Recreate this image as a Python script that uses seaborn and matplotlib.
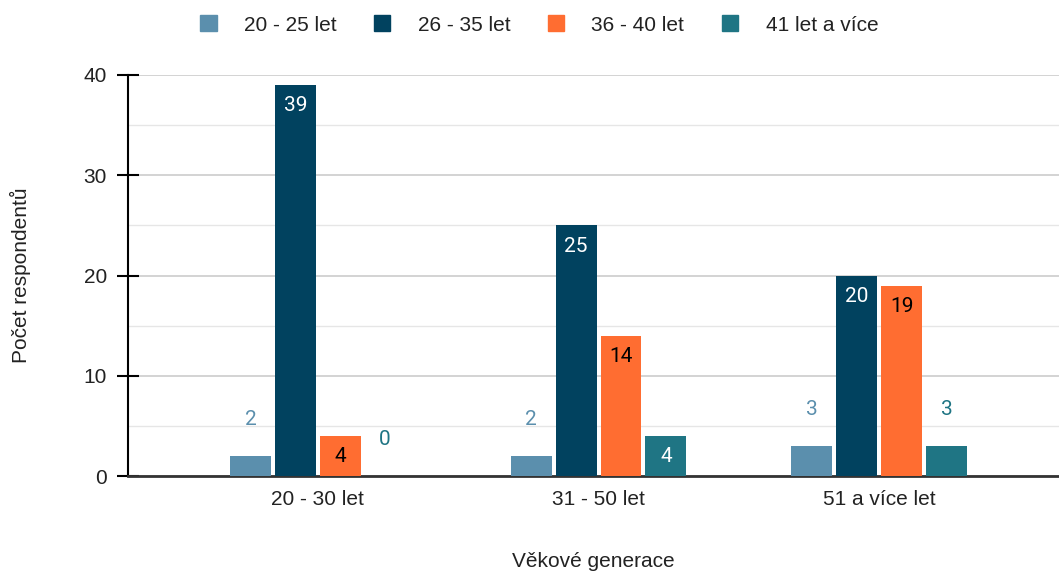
import matplotlib
matplotlib.use("Agg")
import matplotlib.pyplot as plt
import seaborn as sns
import pandas as pd
from matplotlib.patches import Patch
from matplotlib.ticker import MultipleLocator

categories = ["20 - 30 let", "31 - 50 let", "51 a více let"]
series_names = ["20 - 25 let", "26 - 35 let", "36 - 40 let", "41 let a více"]
v_20_25 = [2, 2, 3]
v_26_35 = [39, 25, 20]
v_36_40 = [4, 14, 19]
v_41 = [0, 4, 3]

colors = ["#5b8fad", "#01425f", "#ff6d31", "#1f7584"]
label_inside_colors = ["white", "white", "black", "white"]

sns.set_theme(style="white")
plt.rcParams['font.family'] = ['Liberation Sans', 'DejaVu Sans']

rows = []
for s, vals in zip(series_names, [v_20_25, v_26_35, v_36_40, v_41]):
    for c, v in zip(categories, vals):
        rows.append({"cat": c, "series": s, "val": v})
df = pd.DataFrame(rows)

fig = plt.figure(figsize=(10.59, 5.72), dpi=100)
ax = fig.add_axes([128/1059, 1 - 476/572, 1 - 128/1059, (476 - 75)/572])

sns.barplot(data=df, x="cat", y="val", hue="series", order=categories,
            hue_order=series_names, palette=colors, saturation=1,
            width=0.64, gap=0.09, linewidth=0,
            ax=ax, legend=False, zorder=3)

ax.set_ylim(0, 40)
ax.set_xlim(-0.676, 2.64)
ax.yaxis.set_major_locator(MultipleLocator(10))
ax.yaxis.set_minor_locator(MultipleLocator(5))
ax.grid(axis="y", which="major", color="#cccccc", linewidth=1.2, zorder=0)
ax.grid(axis="y", which="minor", color="#e6e6e6", linewidth=1.0, zorder=0)
ax.set_axisbelow(True)

for side in ["top", "right"]:
    ax.spines[side].set_visible(False)
ax.spines["left"].set_color("black")
ax.spines["left"].set_linewidth(1.5)
ax.spines["bottom"].set_color("#333333")
ax.spines["bottom"].set_linewidth(2)

ax.tick_params(axis="y", which="major", direction="inout", length=16.5, width=1.5,
               color="black", labelsize=15, labelcolor="#222222", pad=7, left=True)
ax.tick_params(axis="y", which="minor", length=0)
ax.tick_params(axis="x", length=0, labelsize=15, labelcolor="#222222", pad=10)

ax.set_xlabel("Věkové generace", fontsize=15, labelpad=31, color="#222222")
ax.set_ylabel("Počet respondentů", fontsize=15, labelpad=38, color="#222222")

for i, cont in enumerate(ax.containers):
    for bar in cont:
        v = bar.get_height()
        x = bar.get_x() + bar.get_width() / 2
        if v >= 4:
            ax.annotate(f"{int(v)}", (x, v), xytext=(0, -15), textcoords="offset points",
                        ha="center", va="center", fontsize=15, family="Roboto",
                        color=label_inside_colors[i], zorder=5)
        else:
            ax.annotate(f"{int(v)}", (x, v), xytext=(0, 26), textcoords="offset points",
                        ha="center", va="center", fontsize=15, family="Roboto",
                        color=colors[i], zorder=5)

handles = [Patch(facecolor=c, edgecolor=c) for c in colors]
fig.legend(handles, series_names, loc="center", bbox_to_anchor=(0.509, 1 - 25/572),
           ncol=4, frameon=False, fontsize=15, handlelength=0.8, handleheight=0.8,
           columnspacing=1.8, handletextpad=1.3, labelcolor="#222222")

fig.savefig("out.png", dpi=100)
